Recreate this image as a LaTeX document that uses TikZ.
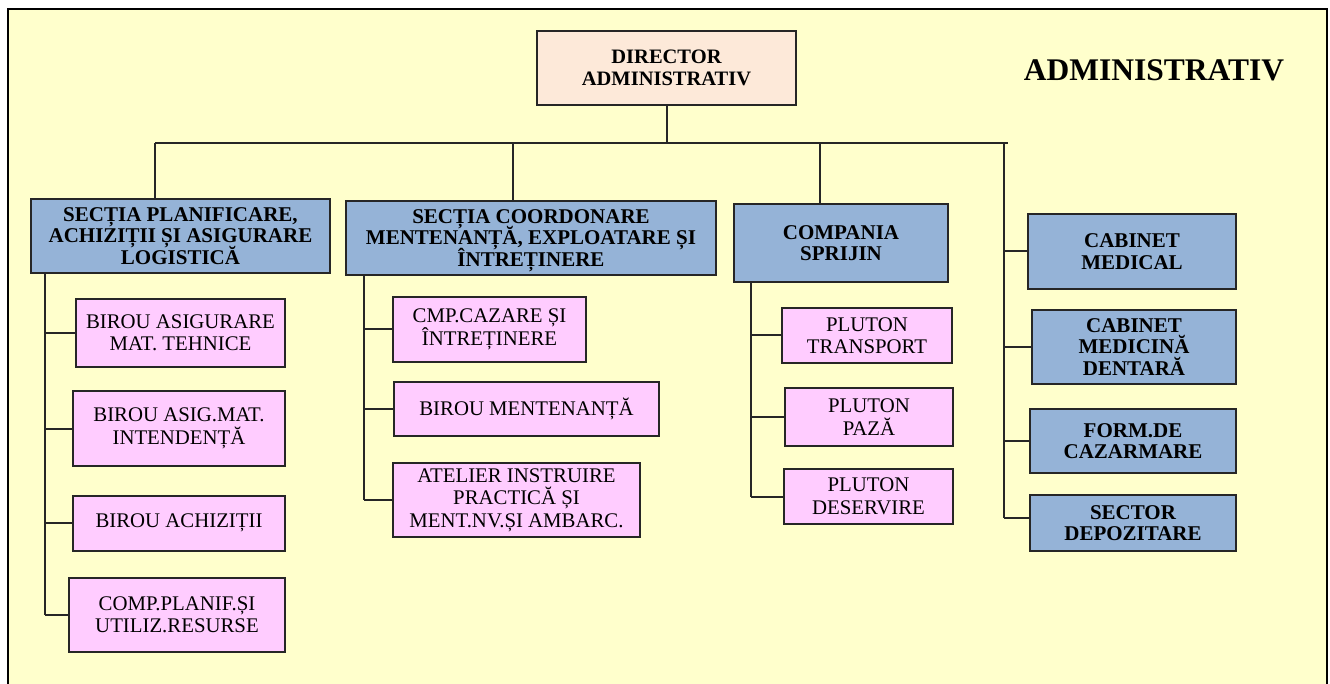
\documentclass[tikz,border=0pt]{standalone}
\usepackage{fontspec}
\setmainfont{Liberation Serif}
\definecolor{bgyel}{HTML}{FFFFCC}
\definecolor{bluef}{HTML}{95B3D7}
\definecolor{pinkf}{HTML}{FFCCFF}
\definecolor{peachf}{HTML}{FDE9D9}
\newcommand\mytightlines{\lineskiplimit=-30pt\lineskip=0pt\relax}
\tikzset{
  box/.style={draw=black!85, line width=2pt, align=center, inner sep=2pt},
  bluebox/.style={box, fill=bluef, text depth=0pt, font=\fontsize{21}{21.5}\selectfont\bfseries\mytightlines},
  pinkbox/.style={box, fill=pinkf, font=\fontsize{20.8}{22.5}\selectfont\mytightlines},
  dirbox/.style={box, fill=peachf, font=\fontsize{20.5}{22}\selectfont\bfseries\mytightlines},
  conn/.style={draw=black!85, line width=2pt},
  title/.style={font=\fontsize{31.5}{33}\selectfont\bfseries}
}
\begin{document}
\begin{tikzpicture}[x=1pt,y=-1pt]
\clip (0,0) rectangle (1330,684);
\fill[white] (0,0) rectangle (1330,684);
\draw[line width=1.8pt, fill=bgyel] (8,9) rectangle (1327,720);

\node[title] (title) at (1154,70) {ADMINISTRATIV};

\node[dirbox, minimum width=259, minimum height=74] (dir) at (666.5,68) {DIRECTOR\\ADMINISTRATIV};

% level 1
\node[bluebox, minimum width=299, minimum height=74] (spal) at (180.5,236) {SECȚIA PLANIFICARE,\\ACHIZIȚII ȘI ASIGURARE\\LOGISTICĂ};
\node[bluebox, minimum width=370, minimum height=74] (scme) at (531,238) {SECȚIA COORDONARE\\MENTENANȚĂ, EXPLOATARE ȘI\\ÎNTREȚINERE};
\node[bluebox, minimum width=214, minimum height=78] (cs) at (841,243) {COMPANIA\\SPRIJIN};
\node[bluebox, minimum width=208, minimum height=75] (cm) at (1132,251.5) {CABINET\\MEDICAL};
\node[bluebox, minimum width=204, minimum height=74] (cmd) at (1134,347) {CABINET\\MEDICINĂ\\DENTARĂ};
\node[bluebox, minimum width=206, minimum height=64] (fdc) at (1133,441) {FORM.DE\\CAZARMARE};
\node[bluebox, minimum width=206, minimum height=56] (sd) at (1133,523) {SECTOR\\DEPOZITARE};

% left column
\node[pinkbox, minimum width=209, minimum height=68] (a1) at (180.5,333) {BIROU ASIGURARE\\MAT. TEHNICE};
\node[pinkbox, minimum width=212, minimum height=75] (a2) at (179,428.5) {BIROU ASIG.MAT.\\INTENDENȚĂ};
\node[pinkbox, minimum width=212, minimum height=55] (a3) at (179,523) {BIROU ACHIZIȚII};
\node[pinkbox, minimum width=216, minimum height=74] (a4) at (177,615) {COMP.PLANIF.ȘI\\UTILIZ.RESURSE};

% middle column
\node[pinkbox, minimum width=193, minimum height=65] (b1) at (489.5,329.5) {CMP.CAZARE ȘI\\ÎNTREȚINERE};
\node[pinkbox, minimum width=265, minimum height=54] (b2) at (526.5,409) {BIROU MENTENANȚĂ};
\node[pinkbox, minimum width=247, minimum height=74] (b3) at (516.5,500) {ATELIER INSTRUIRE\\PRACTICĂ ȘI\\MENT.NV.ȘI AMBARC.};

% CS column
\node[pinkbox, minimum width=170, minimum height=55] (c1) at (867,335.5) {PLUTON\\TRANSPORT};
\node[pinkbox, minimum width=168, minimum height=58] (c2) at (869,417) {PLUTON\\PAZĂ};
\node[pinkbox, minimum width=169, minimum height=55] (c3) at (868.5,496.5) {PLUTON\\DESERVIRE};

% connectors
\coordinate (bl) at (155,143);
\coordinate (br) at (1008,143);
\coordinate (d2) at (513,143);
\coordinate (d3) at (820,143);
\coordinate (d4) at (1004,143);
\coordinate (d4e) at (1004,518);
\draw[conn] (dir.south) -- (dir.south |- bl);
\draw[conn] (bl) -- (br);
\draw[conn] (bl) -- (bl |- spal.north);
\draw[conn] (d2) -- (d2 |- scme.north);
\draw[conn] (d3) -- (d3 |- cs.north);
\draw[conn] (d4) -- (d4e);
\draw[conn] (d4 |- cm.west) -- (cm.west);
\draw[conn] (d4 |- cmd.west) -- (cmd.west);
\draw[conn] (d4 |- fdc.west) -- (fdc.west);
\draw[conn] (d4e) -- (sd.west |- d4e);

\coordinate (t1) at (45,0);
\draw[conn] (t1 |- spal.south) -- (t1 |- a4.west);
\draw[conn] (t1 |- a1.west) -- (a1.west);
\draw[conn] (t1 |- a2.west) -- (a2.west);
\draw[conn] (t1 |- a3.west) -- (a3.west);
\draw[conn] (t1 |- a4.west) -- (a4.west);

\coordinate (t2) at (364,0);
\draw[conn] (t2 |- scme.south) -- (t2 |- b3.west);
\draw[conn] (t2 |- b1.west) -- (b1.west);
\draw[conn] (t2 |- b2.west) -- (b2.west);
\draw[conn] (t2 |- b3.west) -- (b3.west);

\coordinate (t3) at (751,0);
\draw[conn] (t3 |- cs.south) -- (t3 |- c3.west);
\draw[conn] (t3 |- c1.west) -- (c1.west);
\draw[conn] (t3 |- c2.west) -- (c2.west);
\draw[conn] (t3 |- c3.west) -- (c3.west);
\end{tikzpicture}
\end{document}
